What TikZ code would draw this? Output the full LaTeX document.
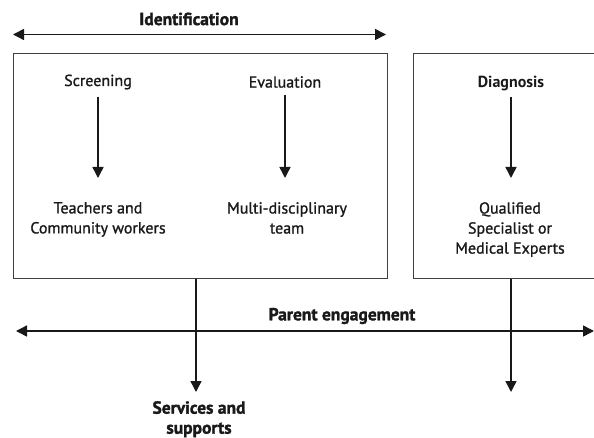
\documentclass[tikz,border=0pt]{standalone}
\usepackage{fontspec}
\setmainfont{PT Sans}
\usetikzlibrary{arrows.meta}
\begin{document}
\begin{tikzpicture}[x=1pt,y=-1pt,
  arr/.style={line width=1.5pt,draw=black!90,-{Triangle[length=11pt,width=11pt]}},
  darr/.style={line width=1.5pt,draw=black!90,{Triangle[length=11pt,width=11pt]}-{Triangle[length=11pt,width=11pt]}},
  box/.style={draw=black!75,line width=1.3pt,rectangle,inner sep=0pt,anchor=north west},
  lbl/.style={font=\fontsize{16}{20}\selectfont\addfontfeature{FakeBold=1.2},align=center,inner sep=0pt,text=black!90},
  hvy/.style={font=\fontsize{17.5}{20}\selectfont\bfseries\addfontfeature{FakeBold=1.6},align=center,inner sep=0pt,text=black!90},
  semi/.style={font=\fontsize{16}{20}\selectfont\bfseries,align=center,inner sep=0pt,text=black!90}]
\useasboundingbox (0,0) rectangle (594,438);
% boxes
\node[box,minimum width=374pt,minimum height=225pt] (lbox) at (13,53) {};
\node[box,minimum width=200pt,minimum height=225pt] (rbox) at (413,53) {};
% top label and arrow
\node[hvy] (ident) at (189,19) {Identification};
\coordinate (il) at (13,34.5);
\coordinate (ir) at (386,34.5);
\draw[darr] (il) -- (ir);
% inner nodes
\node[lbl] (scr) at (98,82) {Screening};
\node[lbl] (eva) at (285,82) {Evaluation};
\node[semi] (dia) at (511,84) {Diagnosis};
\node[lbl,anchor=north] (tea) at (98,202) {Teachers and\\Community workers};
\node[lbl,anchor=north] (mul) at (287,202) {Multi-disciplinary\\team};
\node[lbl,anchor=north] (qua) at (510,202) {Qualified\\Specialist or\\Medical Experts};
\draw[arr,shorten <=7pt,shorten >=24pt] (scr.south) -- (tea.north -| scr.south);
\draw[arr,shorten <=7pt,shorten >=24pt] (eva.south) -- (mul.north -| eva.south);
\draw[arr,shorten <=5pt,shorten >=24pt] (dia.south) -- (qua.north -| dia.south);
% parent engagement
\node[hvy] (par) at (342,316) {Parent engagement};
\coordinate (pl) at (16,331);
\coordinate (pr) at (594,331);
\draw[darr] (pl) -- (pr);
% outputs
\node[hvy,anchor=north] (svc) at (199,401) {Services and\\supports};
\coordinate (rend) at (511,392);
\draw[arr] (lbox.south -| 196,0) -- (196,392);
\draw[arr] (rbox.south -| rend) -- (rend);
\end{tikzpicture}
\end{document}
